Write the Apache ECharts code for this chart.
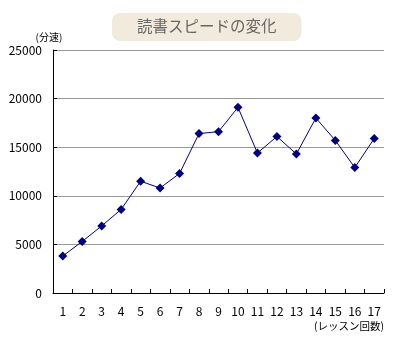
<!DOCTYPE html>
<html><head><meta charset="utf-8">
<script src="https://cdn.jsdelivr.net/npm/echarts@6/dist/echarts.min.js"></script>
<style>html,body{margin:0;padding:0;background:#fff}#c{width:400px;height:350px}</style>
</head><body><div id="c"></div>
<script>
const titleText = '読書スピードの変化';
const yAxisName = '(分速)';
const xAxisName = '(レッスン回数)';
const lessons = ['1','2','3','4','5','6','7','8','9','10','11','12','13','14','15','16','17'];
const speed = [3800,5300,6900,8600,11500,10800,12300,16400,16600,19100,14400,16100,14300,18000,15700,12900,15900];
const font = '"Noto Sans CJK JP", sans-serif';
const chart = echarts.init(document.getElementById('c'));
chart.setOption({
  animation:false,
  title:{text:titleText,left:112,top:13,backgroundColor:'#f2ebdd',borderRadius:8,
    padding:[5,25,6,25],textStyle:{color:'#666',fontSize:15.5,fontWeight:'normal',fontFamily:font,lineHeight:17}},
  grid:{left:53,right:16,top:50,bottom:57},
  xAxis:{type:'category',data:lessons,boundaryGap:true,
    name:xAxisName,nameLocation:'end',nameGap:0,
    nameTextStyle:{color:'#000',fontSize:10.5,fontFamily:font,align:'right',verticalAlign:'top',padding:[28,0,0,0]},
    axisLine:{lineStyle:{color:'#000',width:1}},
    axisTick:{show:true,length:4,inside:true,alignWithLabel:false,lineStyle:{color:'#000'}},
    axisLabel:{color:'#000',fontSize:12,fontFamily:font,margin:12}},
  yAxis:{type:'value',min:0,max:25000,interval:5000,
    name:yAxisName,nameLocation:'end',nameGap:8,
    nameTextStyle:{color:'#000',fontSize:10,fontFamily:font,align:'center',padding:[0,8,0,0]},
    axisLine:{show:true,lineStyle:{color:'#000'}},
    axisTick:{show:true,length:4,inside:true,lineStyle:{color:'#000'}},
    splitLine:{lineStyle:{color:'#999',width:1}},
    axisLabel:{color:'#000',fontSize:12,fontFamily:font,margin:11,formatter:v=>String(v)}},
  series:[{type:'line',data:speed,symbol:'diamond',symbolSize:9,
    lineStyle:{color:'#000080',width:1},itemStyle:{color:'#000080'}}]
});
</script></body></html>
